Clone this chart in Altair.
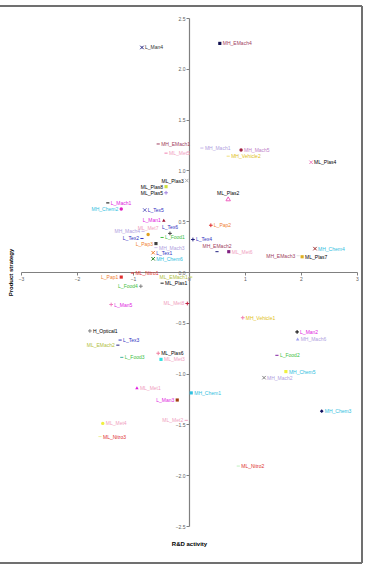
import altair as alt
import pandas as pd

# Positioning map: each firm's score on R&D activity (x) and product strategy (y)
names = [
    "L_Man4", "MH_EMach4", "MH_EMach1", "ML_Met5", "MH_Mach1", "MH_Mach5",
    "MH_Vehicle2", "ML_Plas4", "ML_Plas3", "ML_Plas8", "ML_Plas5", "ML_Plas2",
    "L_Mach1", "MH_Chem2", "L_Tex5", "L_Man1", "L_Tex6", "MH_Mach4", "ML_Met7",
    "L_Tex2", "L_Pap3", "L_Food1", "MH_Mach3", "L_Tex1", "MH_Chem6",
    "L_Pap2", "L_Tex4", "MH_EMach2", "ML_Met6", "MH_Chem4", "MH_EMach3", "ML_Plas7",
    "L_Pap1", "ML_Nitro1", "ML_EMach1", "ML_Plas1", "L_Food4", "L_Man5", "ML_Met8",
    "H_Optical1", "L_Tex3", "ML_EMach2", "L_Food3", "ML_Plas6", "ML_Met3",
    "ML_Met1", "L_Man3", "MH_Chem1", "ML_Met2", "ML_Met4", "ML_Nitro3",
    "ML_Nitro2", "MH_Chem3",
    "MH_Vehicle1", "L_Man2", "MH_Mach6", "L_Food2", "MH_Chem5", "MH_Mach2",
]
rd_activity = [
    -0.84, 0.55, -0.55, -0.41, 0.23, 0.93,
    0.70, 2.18, -0.04, -0.41, -0.41, 0.70,
    -1.45, -1.21, -0.79, -0.45, -0.34, -0.82, -0.73,
    -0.84, -0.59, -0.48, -0.59, -0.64, -0.64,
    0.39, 0.07, 0.50, 0.71, 2.25, 1.95, 2.02,
    -1.21, -1.01, 0.03, -0.48, -0.86, -1.39, -0.03,
    -1.77, -1.23, -1.27, -1.20, -0.55, -0.50,
    -0.93, -0.21, 0.04, -0.05, -1.54, -1.59,
    0.88, 2.37,
    0.96, 1.93, 1.94, 1.57, 1.73, 1.34,
]
product_strategy = [
    2.21, 2.25, 1.26, 1.17, 1.22, 1.20,
    1.14, 1.08, 0.90, 0.84, 0.78, 0.72,
    0.68, 0.62, 0.61, 0.51, 0.38, 0.40, 0.37,
    0.33, 0.28, 0.34, 0.24, 0.19, 0.13,
    0.46, 0.32, 0.20, 0.20, 0.23, 0.16, 0.15,
    -0.05, -0.01, -0.05, -0.11, -0.14, -0.32, -0.31,
    -0.58, -0.67, -0.72, -0.84, -0.80, -0.86,
    -1.14, -1.26, -1.19, -1.46, -1.49, -1.62,
    -1.91, -1.37,
    -0.45, -0.59, -0.66, -0.82, -0.98, -1.04,
]

# marker, marker colour, label colour, label side (r = right, l = left, t = above)
STYLE = {
    "L_Man4": ("x", "#202080", "#303030", "r"),
    "MH_EMach4": ("square", "#101050", "#a04060", "r"),
    "MH_EMach1": ("dash", "#a04060", "#a04060", "r"),
    "ML_Met5": ("dash", "#f080b0", "#f0a0c0", "r"),
    "MH_Mach1": ("dash", "#c8b8e8", "#b0a0e0", "r"),
    "MH_Mach5": ("circle", "#a02040", "#c080c8", "r"),
    "MH_Vehicle2": ("dash", "#f0e080", "#e0c020", "r"),
    "ML_Plas4": ("x", "#f080c0", "#000000", "r"),
    "ML_Plas3": ("x", "#b0b0b0", "#000000", "l"),
    "ML_Plas8": ("square", "#d0e040", "#000000", "l"),
    "ML_Plas5": ("plus", "#a080e0", "#000000", "l"),
    "ML_Plas2": ("triopen", "#f060c0", "#000000", "t"),
    "L_Mach1": ("dash", "#000000", "#e020e0", "r"),
    "MH_Chem2": ("circle", "#e020c0", "#30c0e0", "l"),
    "L_Tex5": ("x", "#6060c0", "#3030c0", "r"),
    "L_Man1": ("triangle", "#a01030", "#e020e0", "l"),
    "L_Tex6": ("plus", "#404040", "#3030c0", "t"),
    "MH_Mach4": ("dash", "#c8b8e8", "#b0a0e0", "l"),
    "ML_Met7": ("circle", "#e0a020", "#f0a0c0", "t"),
    "L_Tex2": ("dash", "#3030c0", "#3030c0", "l"),
    "L_Pap3": ("square", "#404040", "#f08030", "l"),
    "L_Food1": ("dash", "#40c040", "#40c040", "r"),
    "MH_Mach3": ("dash", "#d0c0f0", "#b0a0e0", "r"),
    "L_Tex1": ("x", "#f08030", "#3030c0", "r"),
    "MH_Chem6": ("x", "#208020", "#30c0e0", "r"),
    "L_Pap2": ("plus", "#e03030", "#f08030", "r"),
    "L_Tex4": ("plus", "#202080", "#3030c0", "r"),
    "MH_EMach2": ("dash", "#202080", "#a04060", "t"),
    "ML_Met6": ("square", "#802080", "#f0a0c0", "r"),
    "MH_Chem4": ("x", "#a03030", "#30c0e0", "r"),
    "MH_EMach3": ("dash", "#e0e0e0", "#a04060", "l"),
    "ML_Plas7": ("square", "#e0b020", "#000000", "r"),
    "L_Pap1": ("square", "#e03030", "#f08030", "l"),
    "ML_Nitro1": ("dash", "#e03030", "#e03030", "r"),
    "ML_EMach1": ("dash", "#c0d060", "#b0c040", "l"),
    "ML_Plas1": ("dash", "#202020", "#000000", "r"),
    "L_Food4": ("plus", "#808080", "#40c040", "l"),
    "L_Man5": ("plus", "#f080c0", "#e020e0", "r"),
    "ML_Met8": ("plus", "#c02040", "#f0a0c0", "l"),
    "H_Optical1": ("plus", "#808080", "#000000", "r"),
    "L_Tex3": ("dash", "#3030c0", "#3030c0", "r"),
    "ML_EMach2": ("dash", "#202080", "#b0c040", "l"),
    "L_Food3": ("dash", "#40b0a0", "#40c040", "r"),
    "ML_Plas6": ("plus", "#f080a0", "#000000", "r"),
    "ML_Met3": ("square", "#30e0e0", "#f0a0c0", "r"),
    "ML_Met1": ("triangle", "#e020e0", "#f0a0c0", "r"),
    "L_Man3": ("square", "#a04010", "#e020e0", "l"),
    "MH_Chem1": ("square", "#30c0e0", "#30c0e0", "r"),
    "ML_Met2": ("dash", "#f0a0c0", "#f0a0c0", "l"),
    "ML_Met4": ("circle", "#f0f040", "#f0a0c0", "r"),
    "ML_Nitro3": ("dash", "#f0f0a0", "#e03030", "r"),
    "ML_Nitro2": ("dash", "#c0f0c0", "#e03030", "r"),
    "MH_Chem3": ("diamond", "#101060", "#30c0e0", "r"),
    "MH_Vehicle1": ("plus", "#f080b0", "#e0c020", "r"),
    "L_Man2": ("plus", "#000000", "#e020e0", "r"),
    "MH_Mach6": ("triangle", "#a0a0f0", "#b0a0e0", "r"),
    "L_Food2": ("dash", "#8020a0", "#40c040", "r"),
    "MH_Chem5": ("square", "#f0f040", "#30c0e0", "r"),
    "MH_Mach2": ("x", "#808080", "#b0a0e0", "r"),
}

rows = []
for n, xv, yv in zip(names, rd_activity, product_strategy):
    shape, mc, lc, side = STYLE[n]
    rows.append({"name": n, "rd": xv, "ps": yv, "shape": shape,
                 "mc": mc, "lc": lc, "side": side})
df = pd.DataFrame(rows)

W, H = 336, 508
FONT = "Liberation Sans"
LABEL_SIZE = 5
x_ticks = [-3, -2, -1, 0, 1, 2, 3]
y_ticks = [-2.5, -2, -1.5, -1, -0.5, 0, 0.5, 1, 1.5, 2, 2.5]

# axes cross at the origin: both domains are symmetric, so a negative offset
# of half the panel pulls each axis line onto the zero of the other axis
x_axis = alt.Axis(
    values=x_ticks, offset=-H / 2, grid=False, tickSize=3, tickColor="#808080",
    domainColor="#808080", domainWidth=1.2, labelFontSize=5, labelColor="#606060",
    labelFont=FONT, labelPadding=1, labelFlush=False,
    titleFontSize=6, titleFont=FONT, titleFontWeight="bold", titleColor="#000000",
    titleX=W / 2, titleY=271, titleBaseline="middle",
)
y_axis = alt.Axis(
    values=y_ticks, offset=-W / 2, grid=False, tickSize=3, tickColor="#808080",
    domainColor="#808080", domainWidth=1.2, labelFontSize=5, labelColor="#606060",
    labelFont=FONT, labelPadding=1, labelFlush=False,
    titleFontSize=6, titleFont=FONT, titleFontWeight="bold", titleColor="#000000",
    titleX=-W / 2 - 11, titleY=H / 2, titleBaseline="middle", titleAngle=-90,
)

base = alt.Chart(df).encode(
    x=alt.X("rd:Q", scale=alt.Scale(domain=[-3, 3], nice=False, zero=False),
            axis=x_axis, title="R&D activity"),
    y=alt.Y("ps:Q", scale=alt.Scale(domain=[-2.5, 2.5], nice=False, zero=False),
            axis=y_axis, title="Product strategy"),
)

colour = alt.Color("mc:N", scale=None)
PATHS = {
    "x": ("M-1,-1L1,1M-1,1L1,-1", False, 12),
    "plus": ("M-1,0L1,0M0,-1L0,1", False, 14),
    "dash": ("M-1,0L1,0", False, 10),
    "square": ("square", True, 10),
    "circle": ("circle", True, 12),
    "triangle": ("triangle-up", True, 12),
    "triopen": ("triangle-up", False, 20),
    "diamond": ("diamond", True, 14),
}

layers = []
for key, (shape, filled, size) in PATHS.items():
    layers.append(
        base.transform_filter(alt.datum.shape == key)
        .mark_point(shape=shape, filled=filled, size=size, strokeWidth=1, opacity=1)
        .encode(color=colour)
    )

label_colour = alt.Color("lc:N", scale=None)
layers.append(
    base.transform_filter(alt.datum.side == "r")
    .mark_text(align="left", baseline="middle", dx=3, fontSize=LABEL_SIZE, font=FONT)
    .encode(text="name:N", color=label_colour)
)
layers.append(
    base.transform_filter(alt.datum.side == "l")
    .mark_text(align="right", baseline="middle", dx=-3, fontSize=LABEL_SIZE, font=FONT)
    .encode(text="name:N", color=label_colour)
)
layers.append(
    base.transform_filter(alt.datum.side == "t")
    .mark_text(align="center", baseline="bottom", dy=-3, fontSize=LABEL_SIZE, font=FONT)
    .encode(text="name:N", color=label_colour)
)

# outer frame of the chart area
frame_top = alt.Chart(df).mark_rule(color="#707070", strokeWidth=1.5).encode(
    x=alt.value(-21), x2=alt.value(341), y=alt.value(-12))
frame_right = alt.Chart(df).mark_rule(color="#707070", strokeWidth=1.5).encode(
    x=alt.value(341), y=alt.value(-12), y2=alt.value(545))
frame_bottom = alt.Chart(df).mark_rule(color="#707070", strokeWidth=1.5).encode(
    x=alt.value(-21), x2=alt.value(341), y=alt.value(545))

chart = alt.layer(frame_top, frame_right, frame_bottom, *layers).properties(
    width=W, height=H,
    autosize=alt.AutoSizeParams(type="none"),
    padding={"left": 21, "top": 18, "right": 8, "bottom": 39},
    background="white",
).configure_view(stroke=None)

chart.save("out.html", embed_options={"renderer": "svg", "actions": False})
